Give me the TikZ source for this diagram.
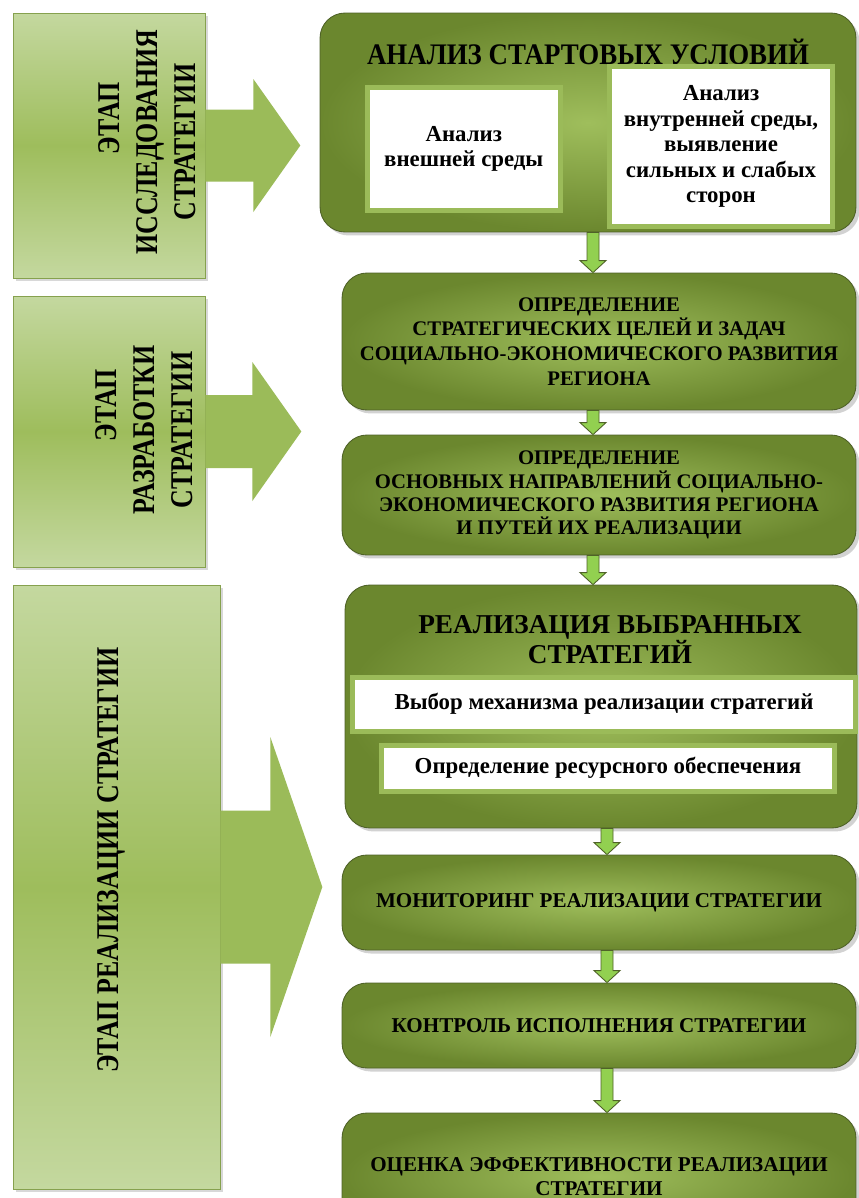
\documentclass[tikz,border=0pt]{standalone}
\usepackage{fontspec}
\setmainfont{Liberation Serif}
\newfontfamily\narrowfont[FakeStretch=0.82]{Liberation Serif}
\newfontfamily\titlefont[FakeStretch=0.9]{Liberation Serif}
\usetikzlibrary{shadows}

\definecolor{stageTop}{HTML}{C4D89F}
\definecolor{stageMid}{HTML}{9EBD5C}
\definecolor{arrowFill}{HTML}{9BBB59}
\definecolor{boxOuter}{HTML}{6B872E}
\definecolor{boxInner}{HTML}{9FBE5C}
\definecolor{frameGreen}{HTML}{9BBB59}
\definecolor{smallGreen}{HTML}{92D050}
\definecolor{darkGreen}{HTML}{4F6228}

% small arrow between two boxes: x, upper node, lower node
\newcommand{\smallarrow}[3]{%
    \draw[smallarr] (#1,0 |- #3.north) -- ++(-13,-12) coordinate (h) -- ++(7,0)
        -- (#1-6,0 |- #2.south) -- (#1+6,0 |- #2.south) -- (#1+6,0 |- h) -- ++(7,0) -- cycle;}

% big arrow out of a stage: node, shaft half, head half, shaft length, head length
\newcommand{\bigarrow}[5]{%
    \fill[bigarr] (#1.east) ++(0,-#2) -- ++(#4,0) -- ++(0,#2-#3) -- ++(#5,#3)
        -- ++(-#5,#3) -- ++(0,#2-#3) -- ++(-#4,0) -- cycle;}

\begin{document}
\begin{tikzpicture}[
    x=0.02cm, y=-0.02cm,
    stage/.style={rectangle, inner sep=0pt, top color=stageTop, bottom color=stageTop,
        middle color=stageMid, draw=stageMid!85!black, line width=0.4pt,
        drop shadow={shadow xshift=0.6mm, shadow yshift=-0.6mm, opacity=0.3}},
    stagetext/.style={rotate=90, align=center, inner sep=0pt,
        font=\narrowfont\bfseries\fontsize{18}{21.5}\selectfont},
    block/.style={rectangle, rounded corners=0.5cm, inner sep=0pt, shading=radial,
        inner color=boxInner, outer color=boxOuter, draw=darkGreen, line width=0.5pt,
        align=center, drop shadow={shadow xshift=0.7mm, shadow yshift=-0.7mm, opacity=0.35}},
    inbox/.style={rectangle, inner sep=0pt, fill=white, draw=frameGreen, line width=0.1cm,
        align=center},
    title/.style={align=center, inner sep=0pt, font=\bfseries\fontsize{17}{19}\selectfont},
    bigarr/.style={fill=arrowFill},
    smallarr/.style={fill=smallGreen, draw=darkGreen, line width=0.5pt},
]
    \path[use as bounding box, fill=white] (0,0) rectangle (859,1198);
    \clip (0,0) rectangle (859,1198);

    % stages
    \node[stage, minimum width=3.84cm, minimum height=5.30cm] (s1) at (109,145.5) {};
    \node[stage, minimum width=3.84cm, minimum height=5.42cm] (s2) at (109,431.5) {};
    \node[stage, minimum width=4.14cm, minimum height=12.08cm] (s3) at (116.5,887) {};

    \node[stagetext] (s1text) at (147,142) {\kern27pt ЭТАП\\ИССЛЕДОВАНИЯ\\СТРАТЕГИИ};
    \node[stagetext] (s2text) at (144,430) {\kern28pt ЭТАП\\РАЗРАБОТКИ\\СТРАТЕГИИ};
    \node[stagetext] (s3text) at (111,860) {ЭТАП РЕАЛИЗАЦИИ СТРАТЕГИИ};

    \bigarrow{s1}{36}{66.5}{48}{47}
    \bigarrow{s2}{36.5}{69.5}{47}{49}
    \bigarrow{s3}{76.5}{150}{50}{52}

    % blocks
    \node[block, minimum width=10.72cm, minimum height=4.38cm] (r1) at (588,122.5) {};
    \node[title, font=\titlefont\bfseries\fontsize{17}{19}\selectfont] (r1title) at (588,52)
          {АНАЛИЗ СТАРТОВЫХ УСЛОВИЙ};
    \node[inbox, minimum width=3.87cm, minimum height=2.46cm,
          font=\bfseries\fontsize{13}{14.5}\selectfont] (outer) at (463.75,149)
          {Анализ\\внешней среды};
    \node[inbox, minimum width=4.47cm, minimum height=3.2cm,
          font=\bfseries\fontsize{13}{14.5}\selectfont] (inner) at (721,146.5)
          {Анализ\\внутренней среды,\\выявление\\сильных и слабых\\сторон};

    \node[block, minimum width=10.28cm, minimum height=2.74cm,
          font=\bfseries\fontsize{11.8}{14}\selectfont] (r2) at (599,341.5)
          {ОПРЕДЕЛЕНИЕ\\СТРАТЕГИЧЕСКИХ ЦЕЛЕЙ И ЗАДАЧ\\СОЦИАЛЬНО-ЭКОНОМИЧЕСКОГО РАЗВИТИЯ\\РЕГИОНА};
    \node[block, minimum width=10.28cm, minimum height=2.4cm,
          font=\bfseries\fontsize{11.8}{13.2}\selectfont] (r3) at (599,495)
          {ОПРЕДЕЛЕНИЕ\\ОСНОВНЫХ НАПРАВЛЕНИЙ СОЦИАЛЬНО-\\ЭКОНОМИЧЕСКОГО РАЗВИТИЯ РЕГИОНА\\И ПУТЕЙ ИХ РЕАЛИЗАЦИИ};

    \node[block, minimum width=10.24cm, minimum height=4.86cm] (r4) at (601,706.5) {};
    \node[title, font=\bfseries\fontsize{15.5}{17}\selectfont] (r4title) at (610,640)
          {РЕАЛИЗАЦИЯ ВЫБРАННЫХ\\СТРАТЕГИЙ};
    \node[inbox, minimum width=10.06cm, minimum height=1.08cm,
          font=\bfseries\fontsize{13}{14}\selectfont] (mech) at (604,704)
          {Выбор механизма реализации стратегий};
    \node[inbox, minimum width=9.08cm, minimum height=0.92cm,
          font=\bfseries\fontsize{13}{14}\selectfont] (res) at (608,768)
          {Определение ресурсного обеспечения};

    \node[block, minimum width=10.28cm, minimum height=1.9cm,
          font=\bfseries\fontsize{12}{14}\selectfont] (r5) at (599,902.5)
          {МОНИТОРИНГ РЕАЛИЗАЦИИ СТРАТЕГИИ};
    \node[block, minimum width=10.28cm, minimum height=1.7cm,
          font=\bfseries\fontsize{12}{14}\selectfont] (r6) at (599,1025.5)
          {КОНТРОЛЬ ИСПОЛНЕНИЯ СТРАТЕГИИ};
    \node[block, minimum width=10.28cm, minimum height=2.54cm,
          font=\bfseries\fontsize{12}{14}\selectfont] (r7) at (599,1176.5)
          {ОЦЕНКА ЭФФЕКТИВНОСТИ РЕАЛИЗАЦИИ\\СТРАТЕГИИ};

    \smallarrow{593}{r1}{r2}
    \smallarrow{593}{r2}{r3}
    \smallarrow{593}{r3}{r4}
    \smallarrow{607}{r4}{r5}
    \smallarrow{607}{r5}{r6}
    \smallarrow{607}{r6}{r7}
\end{tikzpicture}
\end{document}
